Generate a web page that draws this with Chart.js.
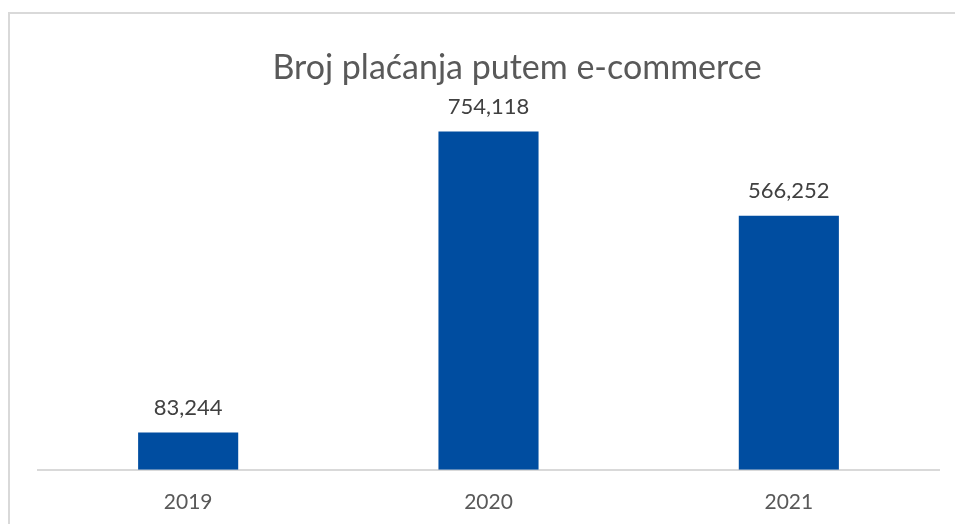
<!DOCTYPE html>
<html>
<head>
<meta charset="utf-8">
<script src="https://cdn.jsdelivr.net/npm/chart.js@4/dist/chart.umd.min.js"></script>
<style>
  html, body { margin: 0; padding: 0; background: #ffffff; overflow: hidden; }
  #frame { position: absolute; left: 8px; top: 12px; width: 970px; height: 540px; border: 2px solid #d9d9d9; box-sizing: border-box; }
  #wrap { position: absolute; left: 0; top: 0; width: 955px; height: 524px; overflow: hidden; }
</style>
</head>
<body>
<div id="frame"></div>
<div id="wrap"><canvas id="c" width="955" height="535"></canvas></div>
<script>
const chartTitle = "Broj plaćanja putem e-commerce";
const categories = ["2019", "2020", "2021"];
const payments = [83244, 754118, 566252];

const barColor = "#004da0";

const titlePlugin = {
  id: "customTitle",
  afterDraw(chart) {
    const ctx = chart.ctx;
    ctx.save();
    ctx.font = "34px Lato";
    ctx.fillStyle = "#595959";
    ctx.textAlign = "center";
    ctx.textBaseline = "middle";
    ctx.fillText(chartTitle, 517, 68);
    ctx.restore();
  }
};

const labelPlugin = {
  id: "valueLabels",
  afterDatasetsDraw(chart) {
    const ctx = chart.ctx;
    const meta = chart.getDatasetMeta(0);
    ctx.save();
    ctx.font = "22px Lato";
    ctx.fillStyle = "#404040";
    ctx.textAlign = "center";
    ctx.textBaseline = "middle";
    meta.data.forEach((bar, i) => {
      const v = chart.data.datasets[0].data[i];
      ctx.fillText(v.toLocaleString("en-US"), bar.x, bar.y - 25);
    });
    ctx.restore();
  }
};

new Chart(document.getElementById("c"), {
  type: "bar",
  data: {
    labels: categories,
    datasets: [{
      data: payments,
      backgroundColor: barColor,
      borderWidth: 0,
      barPercentage: 0.3333,
      categoryPercentage: 1.0
    }]
  },
  options: {
    responsive: false,
    animation: false,
    devicePixelRatio: 1,
    layout: { padding: { left: 38, right: 16, top: 111, bottom: 0 } },
    plugins: {
      legend: { display: false },
      title: { display: false },
      tooltip: { enabled: false }
    },
    scales: {
      x: {
        grid: { display: false, drawTicks: false },
        border: { display: true, color: "#d9d9d9", width: 2 },
        ticks: { color: "#595959", font: { family: "Lato", size: 21 }, padding: 20 }
      },
      y: {
        display: false,
        min: 0,
        max: 800000
      }
    }
  },
  plugins: [titlePlugin, labelPlugin]
});
</script>
</body>
</html>
